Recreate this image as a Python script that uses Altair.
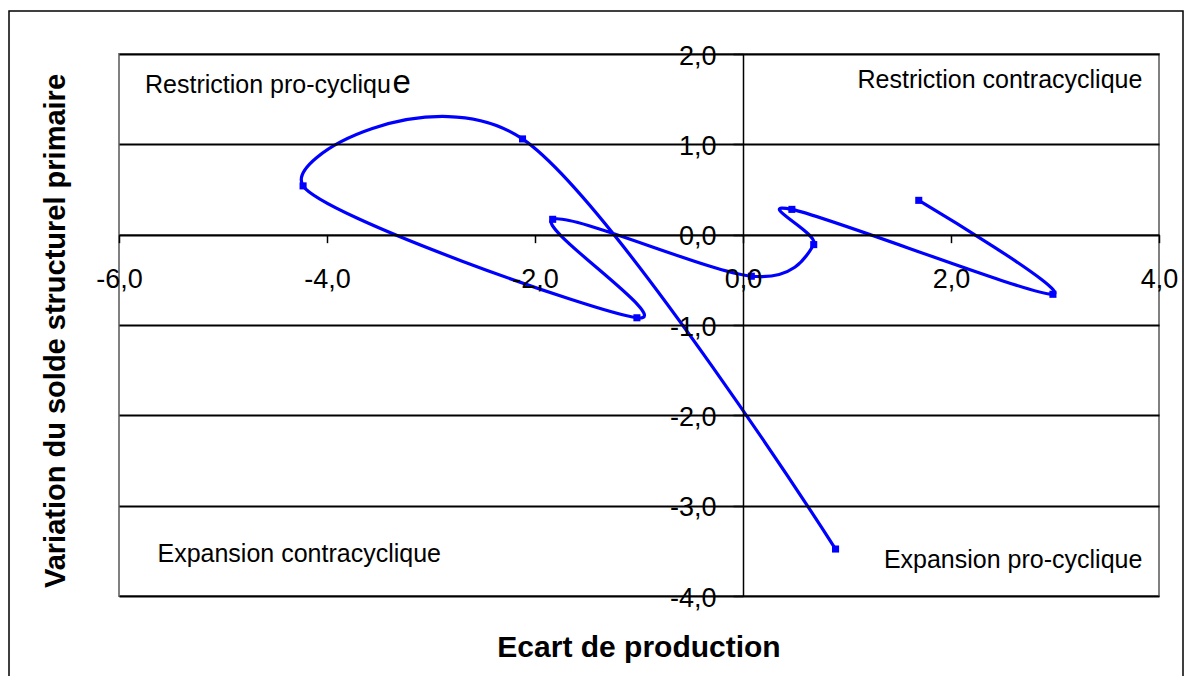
import altair as alt
import pandas as pd

# ---- data (chronological path of the curve) ----
ecart = [0.89, -2.12, -4.23, -1.02, -1.83, 0.08, 0.68, 0.47, 2.98, 1.69]
variation = [-3.48, 1.06, 0.54, -0.92, 0.17, -0.46, -0.11, 0.28, -0.66, 0.38]
ordre = list(range(1, 11))

x_ticks = [-6, -4, -2, 0, 2, 4]
y_ticks = [-4, -3, -2, -1, 0, 1, 2]

x_title = "Ecart de production"
y_title = "Variation du solde structurel primaire"

FONT = "Liberation Sans, Arial, sans-serif"
BLUE = "#0000FF"
W, H = 1040, 542

df = pd.DataFrame({"ecart": ecart, "variation": variation, "ordre": ordre})
one = pd.DataFrame({"k": [0]})

label_expr = "(datum.value < 0 ? '-' : '') + replace(format(abs(datum.value), '.1f'), '.', ',')"

xscale = alt.Scale(domain=[-6, 4], nice=False, zero=False)
yscale = alt.Scale(domain=[-4, 2], nice=False, zero=False)

xaxis = alt.Axis(
    values=x_ticks, orient="bottom", offset=-(H - H * 2 / 6), title=None,
    labelExpr=label_expr, labelFont=FONT, labelFontSize=27, labelColor="black",
    labelPadding=24, labelFlush=False, labelOverlap=False,
    tickSize=8, tickColor="black", tickWidth=1.5,
    domainColor="black", domainWidth=1.5, grid=False, zindex=1,
)
yaxis = alt.Axis(
    values=y_ticks, orient="left", offset=-(W * 6 / 10), title=None,
    labelExpr=label_expr, labelFont=FONT, labelFontSize=27, labelColor="black",
    labelPadding=17, labelFlush=False, labelOverlap=False, labelOffset=2,
    tickSize=10, tickColor="black", tickWidth=1.5,
    domainColor="black", domainWidth=1.5,
    grid=True, gridColor="black", gridWidth=1.8, zindex=1,
)

base = alt.Chart(df).encode(
    x=alt.X("ecart:Q", scale=xscale, axis=xaxis),
    y=alt.Y("variation:Q", scale=yscale, axis=yaxis),
    order=alt.Order("ordre:Q"),
)

line = base.mark_line(interpolate="cardinal", color=BLUE, strokeWidth=3.2)
pts = base.mark_point(shape="square", filled=True, size=50, color=BLUE, opacity=1)

outer = alt.Chart(one).mark_rect(fillOpacity=0, stroke="black", strokeWidth=1.5).encode(
    x=alt.value(-110), x2=alt.value(1064), y=alt.value(-43), y2=alt.value(H + 200)
)
frame = alt.Chart(one).mark_rect(fillOpacity=0, stroke="#808080", strokeWidth=2).encode(
    x=alt.value(0), x2=alt.value(W), y=alt.value(0), y2=alt.value(H)
)


def label(text, xv, yv, align, size=25):
    return alt.Chart(one).mark_text(
        text=text, font=FONT, fontSize=size, color="black",
        align=align, baseline="alphabetic",
    ).encode(x=alt.datum(xv, scale=xscale), y=alt.datum(yv, scale=yscale))


labels = [
    label("Restriction pro-cycliqu", -5.75, 1.565, "left"),
    label("e", -3.37, 1.565, "left", 33),
    label("Restriction contracyclique", 3.84, 1.62, "right"),
    label("Expansion contracyclique", -5.63, -3.62, "left"),
    label("Expansion pro-cyclique", 3.84, -3.69, "right"),
]

xt = alt.Chart(one).mark_text(
    text=x_title, font=FONT, fontSize=30, fontWeight="bold", color="black",
    align="center", baseline="alphabetic",
).encode(x=alt.value(W / 2), y=alt.value(603))

yt = alt.Chart(one).mark_text(
    text=y_title, font=FONT, fontSize=29, fontWeight="bold", color="black",
    align="center", baseline="alphabetic", angle=270,
).encode(x=alt.value(-54), y=alt.value(277))

chart = alt.layer(outer, frame, line, pts, *labels, xt, yt).properties(
    width=W, height=H,
    padding={"left": 111, "top": 46, "right": 25, "bottom": 80},
    autosize=alt.AutoSizeParams(type="none"),
    background="white",
).configure_view(strokeWidth=0)

chart.save("out.html", embed_options={"renderer": "svg", "actions": False})
